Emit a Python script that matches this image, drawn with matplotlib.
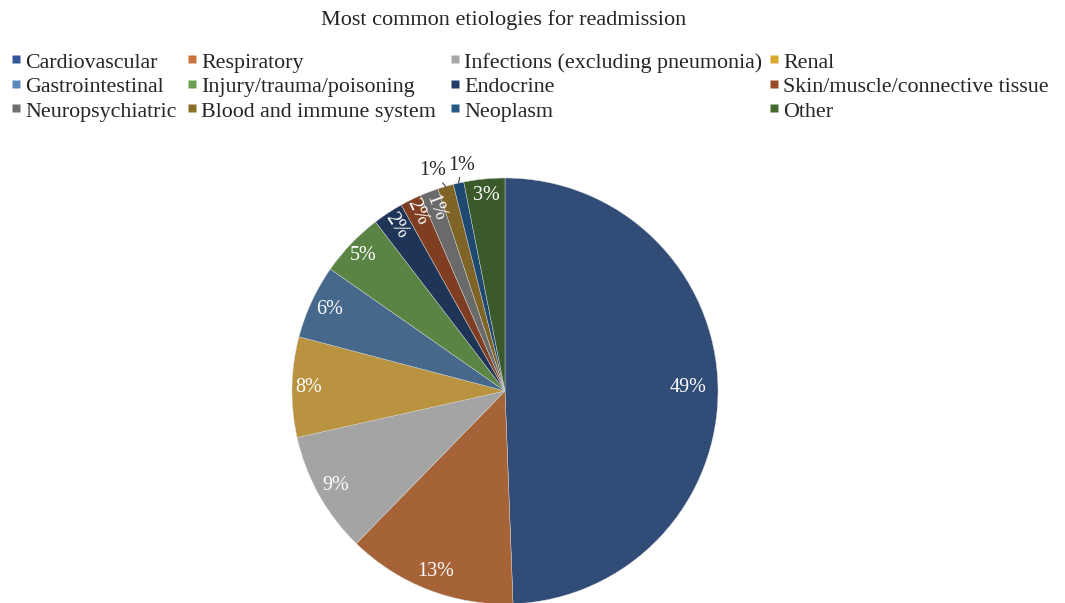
import numpy as np
import matplotlib.pyplot as plt
from matplotlib.lines import Line2D

plt.rcParams['font.family'] = ['Liberation Serif', 'DejaVu Serif']

# data (share of readmissions, %; labels show the rounded value)
categories = ["Cardiovascular", "Respiratory", "Infections (excluding pneumonia)", "Renal",
              "Gastrointestinal", "Injury/trauma/poisoning", "Endocrine", "Skin/muscle/connective tissue",
              "Neuropsychiatric", "Blood and immune system", "Neoplasm", "Other"]
shares = [49.4, 12.9, 9.2, 7.6, 5.6, 4.9, 2.3, 1.6, 1.4, 1.2, 0.8, 3.1]

# slice colours (shaded) and legend colours (brighter)
pie_colors = ["#304c77", "#a66337", "#a4a4a4", "#b99340", "#46688b", "#5a8443",
              "#1f3557", "#7f3e22", "#6a6a6a", "#7e6426", "#1e4a72", "#3a5a2c"]
key_colors = ["#34579a", "#c9743f", "#a6a6a6", "#d9a830", "#5b89ba", "#6aa04f",
              "#213e6b", "#9b4a26", "#6e6e6e", "#8a6e26", "#265a87", "#436b30"]

# label placement per slice
lab_r = [0.86, 0.91, 0.91, 0.92, 0.91, 0.92, 0.93, 0.935, 0.92, 1.09, 1.08, 0.92]
lab_rot = [False] * 6 + [True, True, True] + [False] * 3
lab_out = [False] * 9 + [True, True] + [False]
lab_shift = [0] * 9 + [2.0, -1.8] + [0]

# legend column left edges (px)
col_x = [12, 188, 451, 770]

fig = plt.figure(figsize=(10.65, 6.03), dpi=100)
ax = fig.add_axes([292 / 1065, -1 / 603, 426 / 1065, 426 / 603])

wedges, _ = ax.pie(shares, colors=pie_colors, startangle=90, counterclock=False,
                   wedgeprops=dict(linewidth=0.3, edgecolor="#d8d8d8"))
ax.set_xlim(-1, 1)
ax.set_ylim(-1, 1)
ax.set_aspect("equal")

for i, w in enumerate(wedges):
    mid = (w.theta1 + w.theta2) / 2
    txt = f"{round(shares[i])}%"
    if lab_out[i]:
        a = np.deg2rad(mid + lab_shift[i])
        m = np.deg2rad(mid)
        ax.annotate(txt, xy=(np.cos(m), np.sin(m)),
                    xytext=(np.cos(a) * lab_r[i], np.sin(a) * lab_r[i]),
                    ha="center", va="center", fontsize=14.5, color="#262626",
                    arrowprops=dict(arrowstyle="-", color="#404040", lw=0.8,
                                    shrinkA=6, shrinkB=0))
    else:
        a = np.deg2rad(mid)
        rot = mid - 180 if lab_rot[i] else 0
        ax.text(np.cos(a) * lab_r[i], np.sin(a) * lab_r[i], txt, ha="center", va="center",
                rotation=rot, rotation_mode="anchor", fontsize=14.5, color="white")

fig.text(504 / 1065, 1 - 20 / 603, "Most common etiologies for readmission",
         ha="center", va="center", fontsize=16, color="#262626")

# legend: four columns, filled row by row
for c in range(4):
    idx = [r * 4 + c for r in range(3)]
    handles = [Line2D([], [], marker="s", linestyle="none", markersize=5.6,
                      markerfacecolor=key_colors[k], markeredgecolor="none") for k in idx]
    fig.legend(handles, [categories[k] for k in idx], loc="upper left",
               bbox_to_anchor=(col_x[c] / 1065, 1 - 50.5 / 603), frameon=False,
               fontsize=15.8, handlelength=0.4, handleheight=1.05, handletextpad=0.2,
               labelspacing=0.07, borderpad=0, borderaxespad=0, labelcolor="#262626")

fig.savefig("out.png", dpi=100)
